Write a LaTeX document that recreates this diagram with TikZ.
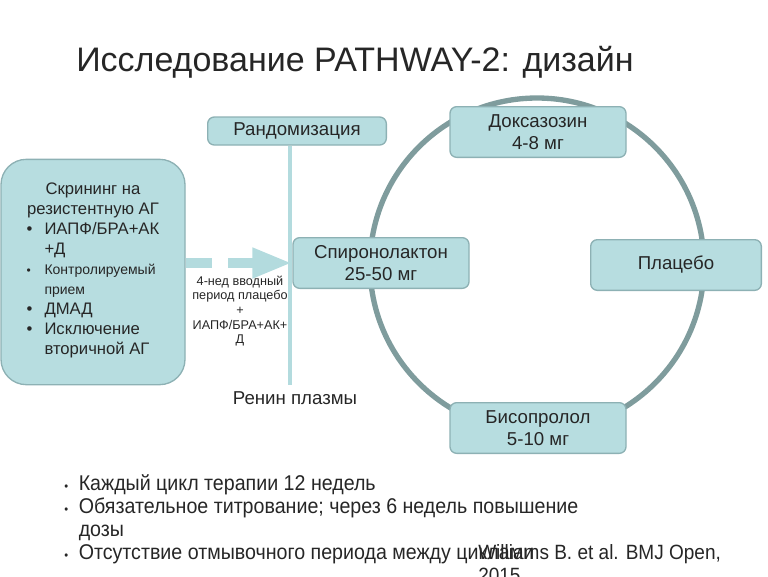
\documentclass[tikz,border=0pt]{standalone}
\usepackage{fontspec}
\setmainfont{Liberation Sans}
\newfontfamily\narrowsans[FakeStretch=0.92]{Liberation Sans}
\usetikzlibrary{arrows.meta,positioning}
\definecolor{boxfill}{HTML}{B7DDE0}
\definecolor{boxline}{HTML}{8DB1B4}
\definecolor{ring}{HTML}{7F9C9D}
\definecolor{stem}{HTML}{B3DBDE}
\definecolor{ink}{HTML}{262626}

\begin{document}
\begin{tikzpicture}[x=0.75pt,y=-0.75pt,font=\fontsize{14}{16.5}\selectfont,text=ink,>=Latex]
  \tikzset{drug/.style={draw=boxline,line width=1pt,rounded corners=5pt,fill=boxfill,minimum width=132pt,minimum height=38pt,align=center,inner sep=1pt}}
  \useasboundingbox (0,0) rectangle (768,576);
  \node (title) at (355,62) {\fontsize{25.5}{30}\selectfont Исследование PATHWAY-2: дизайн};
  % cycle of the four drugs
  \draw[ring,line width=4pt] (537,265) circle[radius=167];
  \node[drug] (doxa) at (538,132) {Доксазозин\\4-8 мг};
  \node[drug] (spiro) at (381,263) {Спиронолактон\\25-50 мг};
  \node[drug,minimum width=128pt] (placebo) at (676,265) {Плацебо};
  \node[drug] (biso) at (538,428) {Бисопролол\\5-10 мг};
  \node[drug,minimum width=134pt,minimum height=21pt] (random) at (297,131) {Рандомизация};
  \coordinate (stemend) at (290,385);
  \draw[stem,line width=2.5pt] (random.south -| stemend) -- (stemend);
  \node (renin) at (295,398) {Ренин плазмы};
  % screening box
  \node[draw=boxline,line width=1pt,rounded corners=19pt,fill=boxfill,minimum width=138pt,minimum height=169pt,align=center,inner sep=0pt,font=\fontsize{12.5}{15}\selectfont] (screen) at (93,272)
    {Скрининг на\\резистентную АГ\\[1pt]
     \begin{tabular}{@{}l@{\hspace{9pt}}l@{}}
     •&ИАПФ/БРА+АК\\
      &+Д\\
     {\small•}&{\fontsize{10.5}{13}\selectfont Контролируемый}\\
      &{\fontsize{10.5}{13}\selectfont прием}\\
     •&ДМАД\\
     •&Исключение\\
      &вторичной АГ
     \end{tabular}};
  \draw[stem,line width=8pt,dash pattern=on 20pt off 12pt,-{Triangle[length=30pt,width=21pt]}] (screen.east |- spiro) -- (spiro.west);
  \node[align=center,font=\fontsize{9.5}{11}\selectfont] (runin) at (240,311) {4-нед вводный\\период плацебо\\+\\ИАПФ/БРА+АК+\\Д};
  % notes
  \node[anchor=north west,align=left,inner sep=0pt,font=\narrowsans\fontsize{16}{17.25}\selectfont] (notes) at (64,474)
    {\begin{tabular}{@{}l@{\hspace{8pt}}l@{}}
     {\small•}&Каждый цикл терапии 12 недель\\
     {\small•}&Обязательное титрование; через 6 недель повышение\\
      &дозы\\
     {\small•}&Отсутствие отмывочного периода между циклами
     \end{tabular}};
  \node[anchor=north west,align=left,inner sep=0pt,font=\narrowsans\fontsize{15.5}{17.25}\selectfont] (cite) at (478,544)
    {Williams B. et al. BMJ Open,\\2015};
\end{tikzpicture}
\end{document}
